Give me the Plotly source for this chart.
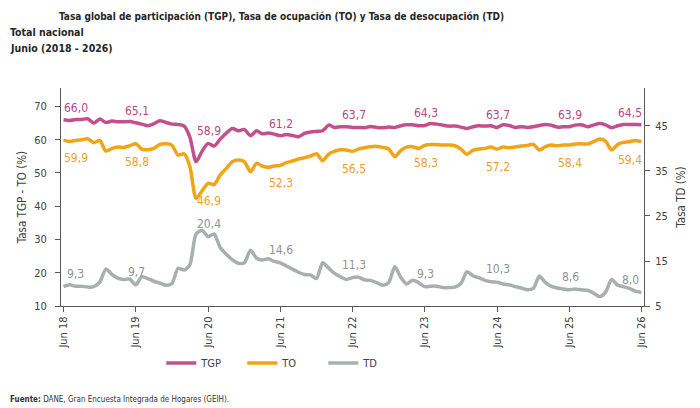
import pandas as pd
import plotly.graph_objects as go

# ---- data (monthly, Jun 2018 - Jun 2026) ----
months = pd.date_range("2018-06-01", periods=97, freq="MS")

tgp = [66.0, 65.8, 66.1, 66.1, 66.3, 65.0, 66.2, 65.2, 65.6, 65.4, 65.4, 65.5,
       65.1, 64.7, 64.2, 64.8, 65.7, 65.2, 64.7, 64.6, 64.1, 60.7, 53.4, 56.5,
       58.9, 58.1, 60.2, 62.0, 63.4, 62.7, 63.1, 61.2, 62.7, 61.8, 62.0, 61.7,
       61.2, 61.6, 61.3, 60.9, 61.9, 62.3, 62.5, 62.7, 64.4, 63.7, 63.9, 63.9,
       63.7, 63.7, 63.6, 64.0, 63.7, 63.6, 63.8, 63.7, 64.2, 64.5, 64.5, 64.2,
       64.3, 64.9, 64.7, 64.4, 64.1, 64.1, 63.8, 63.4, 63.9, 64.2, 64.1, 64.2,
       63.7, 64.5, 64.3, 63.7, 63.9, 63.7, 63.9, 64.3, 64.6, 64.4, 63.8, 63.9,
       63.9, 64.4, 64.5, 63.9, 64.4, 64.9, 64.5, 63.6, 64.2, 64.6, 64.6, 64.6,
       64.5]

to = [59.9, 59.5, 59.8, 60.0, 60.3, 59.1, 59.8, 56.6, 57.4, 57.8, 57.7, 58.2,
      58.8, 57.2, 57.0, 57.4, 58.6, 58.8, 58.4, 55.4, 55.8, 51.9, 42.4, 44.6,
      46.9, 46.5, 49.4, 51.4, 53.4, 53.9, 53.4, 50.4, 52.9, 52.1, 51.7, 52.1,
      52.3, 53.1, 53.6, 54.2, 54.6, 55.1, 55.8, 53.7, 55.7, 56.5, 57.0, 56.9,
      56.5, 57.2, 57.6, 57.9, 58.0, 57.7, 57.2, 54.9, 56.8, 57.8, 57.9, 57.4,
      58.3, 58.6, 58.5, 58.4, 58.4, 58.2, 57.2, 55.6, 56.9, 57.2, 57.4, 57.8,
      57.2, 57.8, 57.6, 57.8, 58.1, 58.3, 58.6, 56.9, 57.9, 58.4, 58.2, 58.4,
      58.4, 58.7, 58.8, 58.7, 59.4, 60.2, 59.6, 56.9, 58.6, 59.2, 59.4, 59.8,
      59.4]

td = [9.3, 9.7, 9.4, 9.4, 9.2, 9.3, 10.3, 13.2, 12.0, 11.2, 10.9, 11.0,
      9.7, 11.5, 11.1, 10.5, 10.1, 9.6, 10.0, 13.4, 13.0, 14.2, 21.0, 21.8,
      20.4, 21.0, 18.0, 16.5, 15.3, 14.5, 14.6, 17.4, 15.6, 15.2, 15.5, 14.9,
      14.6, 13.9, 13.2, 12.5, 12.0, 11.9, 11.1, 14.6, 13.4, 12.3, 11.5, 10.9,
      11.3, 11.4, 10.8, 10.7, 10.2, 9.6, 10.2, 13.7, 11.3, 9.9, 10.7, 10.2,
      9.3, 9.4, 9.4, 9.1, 9.1, 9.2, 10.0, 12.6, 11.7, 11.3, 10.7, 10.4,
      10.3, 9.9, 9.7, 9.3, 9.0, 8.6, 8.9, 11.6, 10.2, 9.4, 9.0, 8.8,
      8.6, 8.8, 8.6, 8.5, 7.9, 7.1, 8.0, 10.9, 9.6, 9.3, 8.9, 8.3,
      8.0]

series_names = ["TGP", "TO", "TD"]
line_colors = ["#C2508C", "#F0A416", "#A7AFAF"]
label_colors = ["#B8458A", "#EBA128", "#8E9393"]

FONT = "DejaVu Sans Condensed, sans-serif"
TXT = "#404040"

fig = go.Figure()
for name, vals, col, ax in zip(series_names, [tgp, to, td], line_colors, ["y", "y", "y2"]):
    fig.add_trace(go.Scatter(
        x=months, y=vals, name=name, mode="lines", yaxis=ax,
        line=dict(color=col, width=3.5, shape="spline", smoothing=0.7),
        hoverinfo="skip",
    ))

# June data labels
june_idx = list(range(0, 97, 12))
yshifts = [12, -18, 13]
for vals, col, ax, ys in zip([tgp, to, td], label_colors, ["y", "y", "y2"], yshifts):
    for k, i in enumerate(june_idx):
        xs = 12 if k == 0 else (-11 if k == len(june_idx) - 1 else 1)
        fig.add_annotation(
            x=months[i], y=vals[i], xref="x", yref=ax,
            text=f"{vals[i]:.1f}".replace(".", ","),
            showarrow=False, xshift=xs, yshift=ys,
            font=dict(family=FONT, size=12, color=col),
        )

# titles
TITLE_FONT = dict(family=FONT, size=10, color="#262626")
fig.add_annotation(x=-0.0069, y=(306 - 16) / 218, xref="paper", yref="paper", xanchor="left", yanchor="middle",
                   text="<b>Tasa global de participación (TGP), Tasa de ocupación (TO) y Tasa de desocupación (TD)</b>",
                   showarrow=False, font=TITLE_FONT)
fig.add_annotation(x=-0.0909, y=(306 - 32) / 218, xref="paper", yref="paper", xanchor="left", yanchor="middle",
                   text="<b>Total nacional</b>", showarrow=False, font=dict(family=FONT, size=10.5, color="#262626"))
fig.add_annotation(x=-0.0909, y=(306 - 48) / 218, xref="paper", yref="paper", xanchor="left", yanchor="middle",
                   text="<b>Junio (2018 - 2026)</b>", showarrow=False, font=dict(family=FONT, size=10.5, color="#262626"))
fig.add_annotation(x=-0.0909, y=(306 - 399) / 218, xref="paper", yref="paper", xanchor="left", yanchor="middle",
                   text="<b>Fuente:</b> DANE, Gran Encuesta Integrada de Hogares (GEIH).",
                   showarrow=False, font=dict(family=FONT, size=8, color="#333333"))

axis_common = dict(showline=True, linecolor="#595959", linewidth=1, ticks="outside", ticklen=5,
                   tickcolor="#595959", showgrid=False, zeroline=False,
                   tickfont=dict(family=FONT, size=11, color=TXT))

fig.update_layout(
    width=700, height=408, autosize=False,
    margin=dict(l=61, r=56, t=88, b=102),
    paper_bgcolor="white", plot_bgcolor="white",
    font=dict(family=FONT, size=11, color=TXT),
    showlegend=True,
    legend=dict(orientation="h", x=0.172, y=(306 - 363) / 218, xanchor="left", yanchor="middle",
                entrywidth=36, entrywidthmode="pixels", font=dict(family=FONT, size=11, color=TXT),
                bgcolor="rgba(0,0,0,0)"),
    xaxis=dict(type="date", range=["2018-05-19", "2026-06-14"], tick0="2018-06-01", dtick="M12",
               tickformat="%b %y", tickangle=-90, **axis_common),
    yaxis=dict(range=[10, 75.56], tickvals=[10, 20, 30, 40, 50, 60, 70],
               title=dict(text="Tasa TGP - TO (%)", font=dict(family=FONT, size=11.5, color=TXT), standoff=5),
               ticklabelstandoff=6, **axis_common),
    yaxis2=dict(range=[5, 53.44], tickvals=[5, 15, 25, 35, 45], overlaying="y", side="right",
                title=dict(text="Tasa TD (%)", font=dict(family=FONT, size=11.5, color=TXT), standoff=10),
                ticklabelstandoff=3, **axis_common),
)

fig.write_html("out.html")
